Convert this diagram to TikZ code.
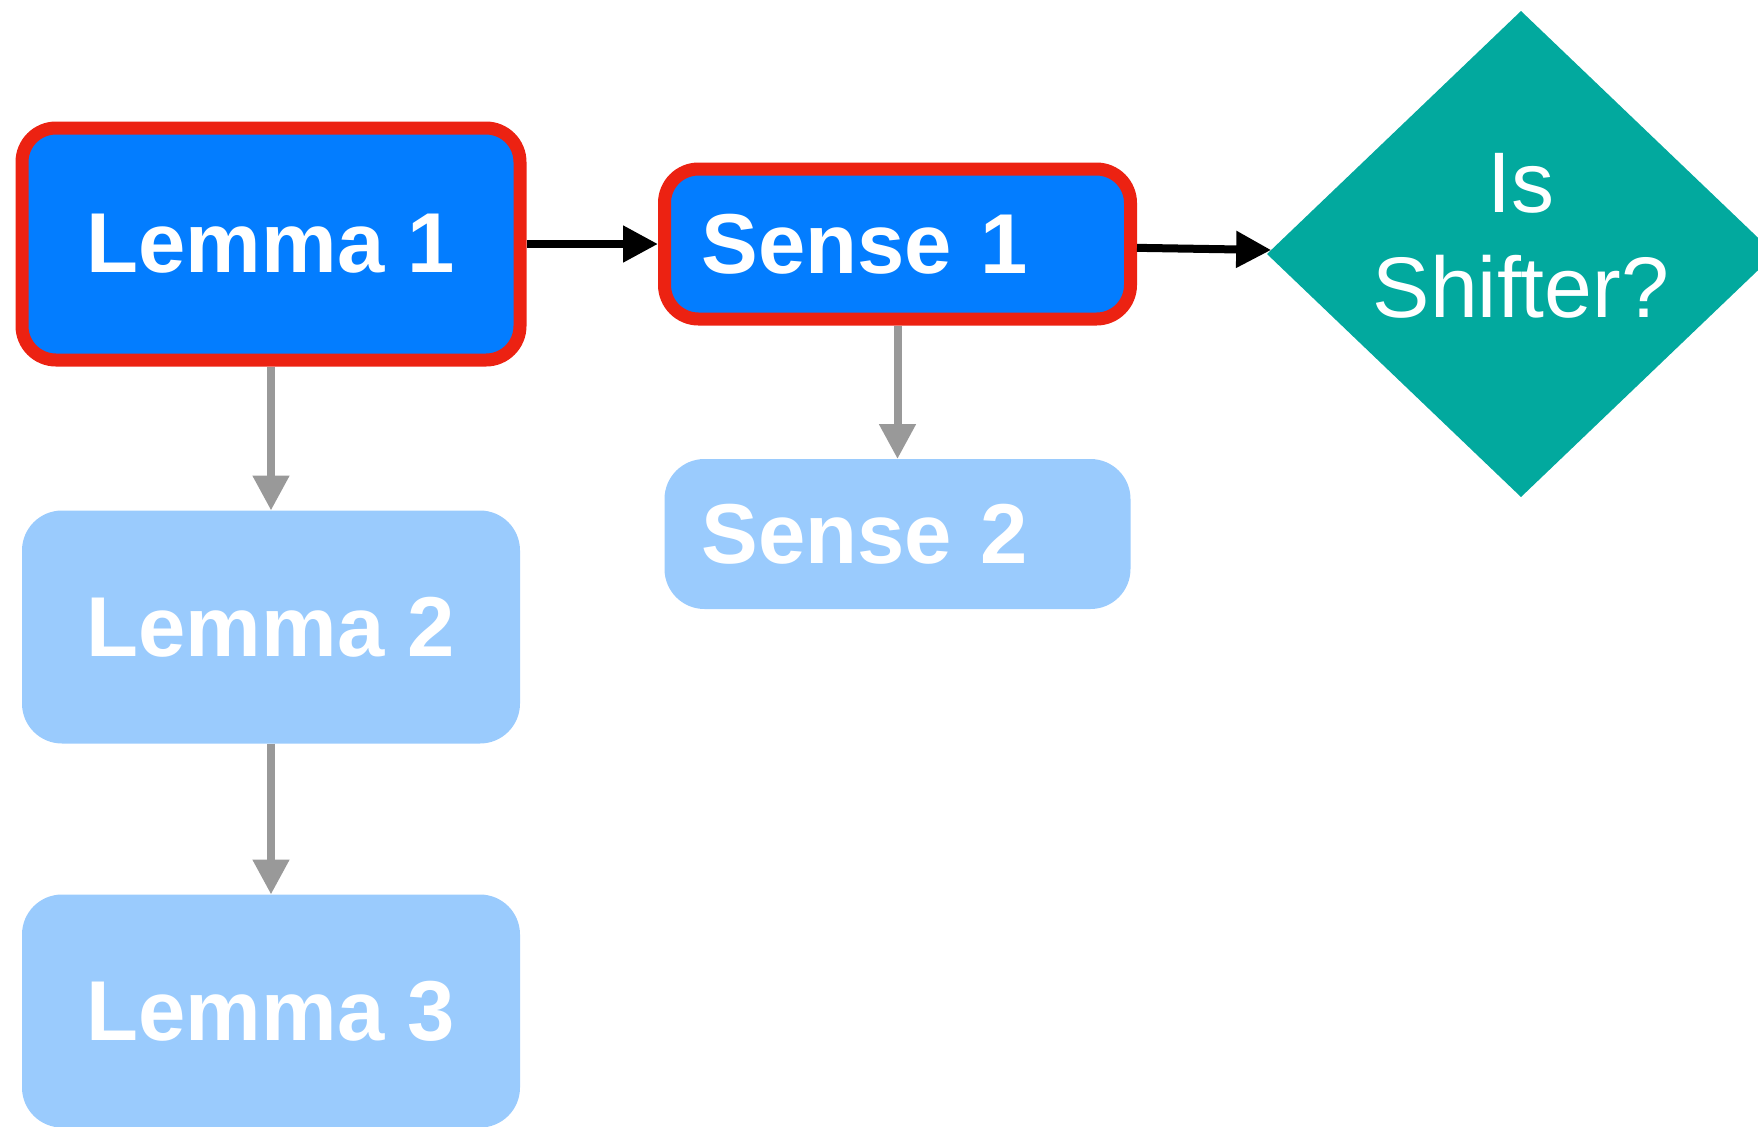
\documentclass[tikz,border=0pt]{standalone}
\usepackage{fontspec}
\setmainfont{Liberation Sans}
\usepackage{tikz}
\usetikzlibrary{shapes, arrows.meta, positioning}
\definecolor{senseblue}{RGB}{3,125,255}
\definecolor{pickred}{RGB}{236,34,18}
\definecolor{paleblue}{RGB}{154,203,253}
\definecolor{shiftteal}{RGB}{2,169,158}
\definecolor{edgegray}{RGB}{153,153,153}

\begin{document}
\begin{tikzpicture}[node distance=72pt and 65.75pt,
		box/.style={rectangle, text=white, font=\fontsize{42.5}{52.5}\selectfont\bfseries, inner sep=0pt, outer sep=0pt, fill=paleblue, rounded corners=20pt},
		lemmabox/.style={box, minimum width=249pt, minimum height=116.5pt},
		sensebox/.style={box, text width=196pt, inner xsep=18.5pt, minimum height=75pt, align=left},
		chosen/.style={fill=senseblue, draw=pickred, line width=6.5pt, rounded corners=17pt, outer sep=3.25pt},
		decision/.style={diamond, fill=shiftteal, minimum width=254pt, minimum height=243pt, inner sep=0pt, outer sep=0pt},
		decisiontext/.style={text=white, align=center, font=\fontsize{43}{52.5}\selectfont},
		grayedge/.style={draw=edgegray, line width=4pt, -{Triangle[length=17.5pt, width=17.5pt]}},
		blackedge/.style={draw=black, line width=4pt, -{Triangle[length=17.5pt, width=17.5pt]}}]
			\useasboundingbox (0,0) rectangle (879pt,-563pt);
			\node[lemmabox, chosen, minimum height=116pt] (lemma1) at (135.5pt,-122pt) {Lemma 1};
				\node[lemmabox, below =of lemma1] (lemma2) {Lemma 2};
				\node[lemmabox, below =75.5pt of lemma2] (lemma3) {Lemma 3};
			\node[sensebox, chosen, right =of lemma1] (sense1) {Sense 1};
				\node[sensebox, below =66.75pt of sense1] (sense2) {Sense 2};
			\node[decision, right =65pt of sense1, yshift=-5pt] (shift) {};
			\node[decisiontext] (shiftlabel) at ([yshift=9.25pt]shift.center) {Is\\Shifter?};
			\foreach \from/\to in {lemma1/lemma2,lemma2/lemma3,sense1/sense2}
				\draw[grayedge] (\from) -- (\to);
			\foreach \from/\to in {lemma1/sense1,sense1/shift}
				\draw[blackedge] (\from) -- (\to);
		\end{tikzpicture}
\end{document}
